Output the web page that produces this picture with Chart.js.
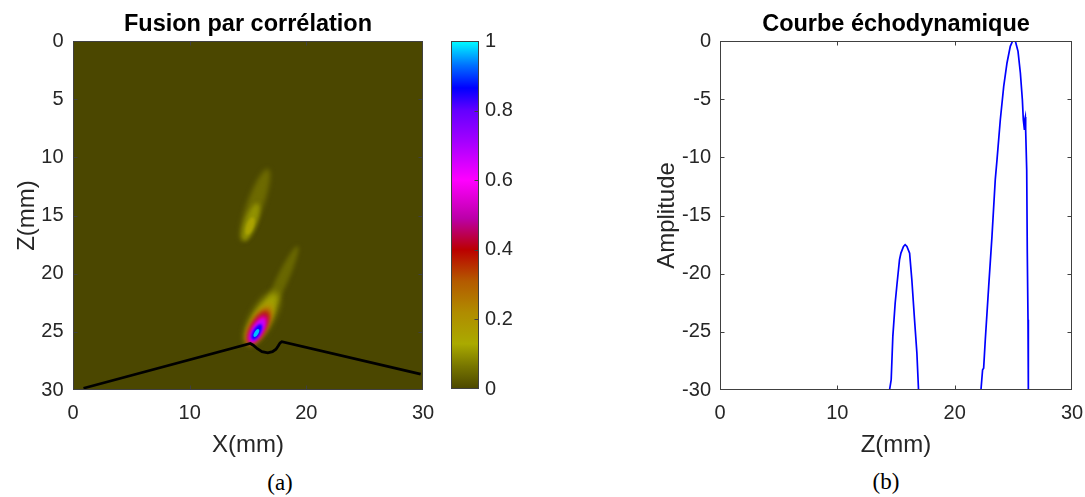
<!DOCTYPE html>
<html>
<head>
<meta charset="utf-8">
<script src="https://cdn.jsdelivr.net/npm/chart.js@4.4.0/dist/chart.umd.min.js"></script>
<style>
  body { margin: 0; background: #fff; width: 1085px; height: 497px; position: relative; overflow: hidden; }
  .box { position: absolute; }
  .cap { position: absolute; font-family: "Liberation Serif", "DejaVu Serif", serif; font-size: 23px; line-height: 23px; color: #000; transform: translateX(-50%); }
</style>
</head>
<body>
<div class="box" style="left:0;top:0"><canvas id="fusion" width="440" height="465"></canvas></div>
<div class="box" style="left:440px;top:0"><canvas id="cbar" width="100" height="465"></canvas></div>
<div class="box" style="left:600px;top:0"><canvas id="echo" width="485" height="465"></canvas></div>
<div class="cap" style="left:280px;top:471px">(a)</div>
<div class="cap" style="left:886px;top:470px">(b)</div>

<script>
// colour map (value -> colour)
const cmapStops  = [0, 0.065, 0.13, 0.22, 0.31, 0.4, 0.49, 0.6, 0.71, 0.8, 0.865, 0.93, 1];
const cmapColors = ['#4b4700', '#777500', '#aaaa00', '#b08c00', '#b45a00', '#bb0000', '#bb00a8',
                    '#ff00ff', '#a500ff', '#6400ff', '#0000ff', '#0070ff', '#00ffff'];

// correlation spots, drawn as nested contours (mm, level 0..1)
const spotX     = [17.8, 16.2, 15.98, 15.92, 15.87, 15.82, 15.78, 15.75, 15.72, 15.6, 15.25, 15.17];
const spotZ     = [20.8, 23.8, 24.3, 24.5, 24.65, 24.8, 24.92, 25.02, 25.1, 14.1, 15.56, 15.9];
const spotMinor = [0.5, 0.85, 0.72, 0.66, 0.6, 0.5, 0.42, 0.32, 0.17, 0.7, 0.5, 0.3];
const spotMajor = [3.5, 2.5, 2.0, 1.7, 1.5, 1.3, 1.05, 0.75, 0.38, 3.3, 1.7, 0.8];
const spotAngle = [25, 30, 30, 30, 30, 30, 30, 30, 30, 20, 20, 20];
const spotLevel = [0.045, 0.12, 0.2, 0.32, 0.42, 0.55, 0.68, 0.85, 0.97, 0.05, 0.1, 0.15];

// interface (black line)
const interfaceX = [0.9, 15.2, 15.45, 15.8, 16.2, 16.7, 17.1, 17.4, 17.6, 17.75, 17.9, 29.8];
const interfaceZ = [29.85, 26.0, 26.15, 26.45, 26.7, 26.8, 26.7, 26.5, 26.2, 25.95, 25.85, 28.63];

// echodynamic curve, two lobes
const echoZ1 = [14.45, 14.59, 14.73, 14.93, 15.08, 15.3, 15.42, 15.64, 15.78, 15.93, 16.16, 16.35, 16.58, 16.78, 16.92];
const echoA1 = [-30, -29.12, -25.39, -22.52, -20.95, -18.8, -18.23, -17.66, -17.51, -17.66, -18.23, -20.52, -23.96, -26.82, -30];
const echoZ2 = [22.24, 22.38, 22.47, 22.61, 22.9, 23.18, 23.46, 23.61, 23.89, 24.18, 24.46, 24.74, 24.94, 25.17,
                25.4, 25.6, 25.77, 25.85, 25.94, 25.97, 26.02, 26.05, 26.14, 26.19, 26.25, 26.28];
const echoA2 = [-30, -28.26, -28.12, -25.68, -21.09, -16.79, -11.92, -10.2, -6.77, -3.9, -1.89, -0.46, 0, 0,
                -0.89, -2.75, -5.05, -6.77, -7.57, -6.77, -6.54, -7.63, -11.07, -18.23, -23.96, -30];

const cbTicks = [0, 0.2, 0.4, 0.6, 0.8, 1];

const FONT = '"Liberation Sans", Arial, sans-serif';
const TXT = '#262626';
const tickFont = { family: FONT, size: 20 };
const labelFont = { family: FONT, size: 24 };
const titleFont = { family: FONT, size: 23.5, weight: 'bold' };
const noGrid = { display: false, drawTicks: false, tickLength: 0 };

function hex(c) { return [1, 3, 5].map(i => parseInt(c.substr(i, 2), 16)); }
function colorAt(v) {
  for (let i = 1; i < cmapStops.length; i++) {
    if (v <= cmapStops[i]) {
      const t = (v - cmapStops[i - 1]) / (cmapStops[i] - cmapStops[i - 1]);
      const a = hex(cmapColors[i - 1]), b = hex(cmapColors[i]);
      return 'rgb(' + a.map((x, k) => Math.round(x + (b[k] - x) * t)).join(',') + ')';
    }
  }
  return cmapColors[cmapColors.length - 1];
}

// keep chart areas where they are in the picture
function fixX(h) { return s => { s.height = h; s.paddingLeft = 0; s.paddingRight = 0; }; }
function fixY(w) { return s => { s.width = w; s.paddingTop = 0; s.paddingBottom = 0; }; }

const heatPlugin = {
  id: 'heat',
  beforeDatasetsDraw(chart) {
    const { ctx, chartArea: a, scales: { x, y } } = chart;
    ctx.save();
    ctx.beginPath();
    ctx.rect(a.left, a.top, a.width, a.height);
    ctx.clip();
    ctx.fillStyle = colorAt(0);
    ctx.fillRect(a.left, a.top, a.width, a.height);
    for (let i = 0; i < spotX.length; i++) {
      const cx = x.getPixelForValue(spotX[i]);
      const cy = y.getPixelForValue(spotZ[i]);
      const rx = Math.abs(x.getPixelForValue(spotMinor[i]) - x.getPixelForValue(0));
      const ry = Math.abs(y.getPixelForValue(spotMajor[i]) - y.getPixelForValue(0));
      ctx.filter = 'blur(' + Math.max(0.7, rx * 0.35).toFixed(1) + 'px)';
      ctx.fillStyle = colorAt(spotLevel[i]);
      ctx.beginPath();
      ctx.ellipse(cx, cy, rx, ry, spotAngle[i] * Math.PI / 180, 0, Math.PI * 2);
      ctx.fill();
    }
    ctx.restore();
  }
};

// MATLAB-like box with inward ticks
const framePlugin = {
  id: 'frame',
  afterDraw(chart, args, opts) {
    const { ctx, chartArea: a, scales } = chart;
    const L = Math.round(a.left) + 0.5, R = Math.round(a.right) - 0.5;
    const T = Math.round(a.top) + 0.5, B = Math.round(a.bottom) - 0.5;
    ctx.save();
    ctx.strokeStyle = '#404040';
    ctx.lineWidth = 1;
    ctx.strokeRect(L, T, R - L, B - T);
    ctx.beginPath();
    const len = 4;
    if (scales.x && scales.x.options.display) {
      scales.x.ticks.forEach(t => {
        const px = Math.round(scales.x.getPixelForValue(t.value)) + 0.5;
        if (px <= L + 1 || px >= R - 1) return;
        ctx.moveTo(px, B); ctx.lineTo(px, B - len);
        ctx.moveTo(px, T); ctx.lineTo(px, T + len);
      });
    }
    scales.y.ticks.forEach(t => {
      const py = Math.round(scales.y.getPixelForValue(t.value)) + 0.5;
      if (py <= T + 1 || py >= B - 1) return;
      if (!opts.rightOnly) { ctx.moveTo(L, py); ctx.lineTo(L + len, py); }
      ctx.moveTo(R, py); ctx.lineTo(R - len, py);
    });
    ctx.stroke();
    ctx.restore();
  }
};

const cbarPlugin = {
  id: 'cbarFill',
  beforeDraw(chart) {
    const { ctx, chartArea: a, scales: { y } } = chart;
    const g = ctx.createLinearGradient(0, y.getPixelForValue(0), 0, y.getPixelForValue(1));
    cmapStops.forEach((s, i) => g.addColorStop(s, cmapColors[i]));
    ctx.save();
    ctx.fillStyle = g;
    ctx.fillRect(a.left, a.top, a.width, a.height);
    ctx.restore();
  }
};

new Chart(document.getElementById('fusion'), {
  type: 'scatter',
  data: {
    datasets: [{
      data: interfaceX.map((v, i) => ({ x: v, y: interfaceZ[i] })),
      showLine: true,
      borderColor: '#000',
      borderWidth: 2.8,
      pointRadius: 0,
      tension: 0
    }]
  },
  options: {
    responsive: false,
    animation: false,
    layout: { padding: { right: 17 } },
    plugins: {
      legend: { display: false },
      tooltip: { enabled: false },
      frame: {},
      title: { display: true, text: 'Fusion par corrélation', fullSize: false, color: '#000', font: titleFont, padding: { top: 10, bottom: 2.8 } }
    },
    scales: {
      x: {
        type: 'linear', min: 0, max: 30,
        ticks: { stepSize: 10, padding: 11, color: TXT, font: tickFont, maxRotation: 0 },
        grid: noGrid, border: { display: false },
        title: { display: true, text: 'X(mm)', color: TXT, font: labelFont, padding: { bottom: 5 } },
        afterFit: fixX(75)
      },
      y: {
        type: 'linear', reverse: true, min: 0, max: 30,
        ticks: { stepSize: 5, padding: 9.5, color: TXT, font: tickFont },
        grid: noGrid, border: { display: false },
        title: { display: true, text: 'Z(mm)', color: TXT, font: labelFont, padding: { top: 13 } },
        afterFit: fixY(73)
      }
    }
  },
  plugins: [heatPlugin, framePlugin]
});

new Chart(document.getElementById('cbar'), {
  type: 'scatter',
  data: { datasets: [] },
  options: {
    responsive: false,
    animation: false,
    layout: { padding: { left: 11, top: 41, bottom: 76 } },
    plugins: { legend: { display: false }, tooltip: { enabled: false }, frame: { rightOnly: true } },
    scales: {
      x: { display: false, min: 0, max: 1 },
      y: {
        position: 'right', min: 0, max: 1,
        afterBuildTicks(s) { s.ticks = cbTicks.map(v => ({ value: v })); },
        ticks: { padding: 6, color: TXT, font: tickFont, callback: v => String(+v.toFixed(1)) },
        grid: noGrid, border: { display: false },
        afterFit: fixY(61)
      }
    }
  },
  plugins: [cbarPlugin, framePlugin]
});

new Chart(document.getElementById('echo'), {
  type: 'scatter',
  data: {
    datasets: [
      { data: echoZ1.map((v, i) => ({ x: v, y: echoA1[i] })), showLine: true, borderColor: '#0000ff', borderWidth: 1.7, pointRadius: 0, tension: 0 },
      { data: echoZ2.map((v, i) => ({ x: v, y: echoA2[i] })), showLine: true, borderColor: '#0000ff', borderWidth: 1.7, pointRadius: 0, tension: 0 }
    ]
  },
  options: {
    responsive: false,
    animation: false,
    layout: { padding: { right: 13 } },
    plugins: {
      legend: { display: false },
      tooltip: { enabled: false },
      frame: {},
      title: { display: true, text: 'Courbe échodynamique', fullSize: false, color: '#000', font: titleFont, padding: { top: 10, bottom: 2.8 } }
    },
    scales: {
      x: {
        type: 'linear', min: 0, max: 30,
        ticks: { stepSize: 10, padding: 11, color: TXT, font: tickFont, maxRotation: 0 },
        grid: noGrid, border: { display: false },
        title: { display: true, text: 'Z(mm)', color: TXT, font: labelFont, padding: { bottom: 5 } },
        afterFit: fixX(75)
      },
      y: {
        type: 'linear', min: -30, max: 0,
        ticks: { stepSize: 5, padding: 9, color: TXT, font: tickFont },
        grid: noGrid, border: { display: false },
        title: { display: true, text: 'Amplitude', color: TXT, font: labelFont, padding: { top: 53 } },
        afterFit: fixY(120)
      }
    }
  },
  plugins: [framePlugin]
});
</script>
</body>
</html>
